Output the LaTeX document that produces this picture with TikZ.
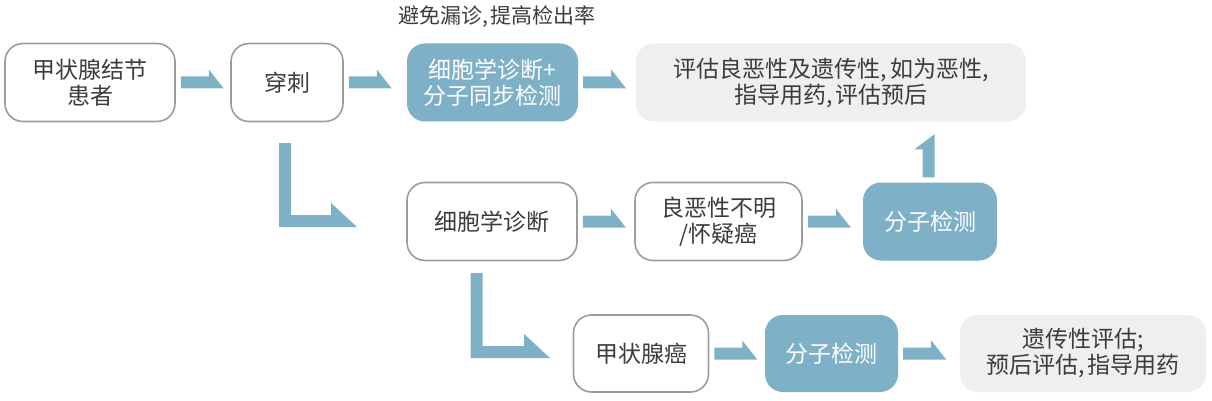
\documentclass[tikz,border=0pt]{standalone}
\usepackage{fontspec}
\setmainfont{Noto Sans CJK SC}
\usetikzlibrary{calc}
\definecolor{flowblue}{HTML}{7EB1C8}
\definecolor{boxline}{HTML}{9C9C9C}
\definecolor{boxgray}{HTML}{EFEFEF}
\definecolor{txt}{HTML}{3C3C3C}
\newcommand{\cm}{,\hspace{3pt}}
\tikzset{
  base/.style={rounded corners=18pt, inner sep=0pt, align=center, minimum height=78pt,
    font=\fontsize{23}{26}\selectfont, text=txt},
  whitebox/.style={base, draw=boxline, line width=1.6pt, fill=white},
  bluebox/.style={base, fill=flowblue, text=white},
  graybox/.style={base, fill=boxgray},
  arrowc/.style={fill=flowblue},
  toplabel/.style={font=\fontsize{21}{24}\selectfont, text=txt, inner sep=0pt}
}
\newcommand{\harr}[1]{\fill[arrowc] let \p1=(#1.east) in
  (\x1+5pt,\y1+6pt) -- (\x1+33pt,\y1+6pt) -- (\x1+33pt,\y1+13pt) -- (\x1+48pt,\y1-6pt) -- (\x1+5pt,\y1-6pt) -- cycle;}
\newcommand{\larr}[2]{\fill[arrowc] let \p1=(#1), \p2=(#2) in
  (\x1-6pt,\y1) -- (\x1+6pt,\y1) -- (\x1+6pt,\y2+6pt) -- (\x2-26pt,\y2+6pt) -- (\x2-26pt,\y2+18pt) -- (\x2,\y2-6pt) -- (\x1-6pt,\y2-6pt) -- cycle;}
\begin{document}
\begin{tikzpicture}[x=1pt,y=-1pt]
\useasboundingbox (0,0) rectangle (1212,401);
\fill[white] (0,0) rectangle (1212,401);
% row 1
\node[whitebox, minimum width=170pt] (n1) at (90,82.5) {甲状腺结节\\患者};
\node[whitebox, minimum width=112pt] (n2) at (287,82.5) {穿刺};
\node[bluebox, minimum width=171pt] (n3) at (492.5,82.5) {细胞学诊断+\\分子同步检测};
\node[graybox, minimum width=390pt] (n4) at (831,82.5) {评估良恶性及遗传性\cm 如为恶性,\\指导用药\cm 评估预后};
\node[toplabel] (lab) at (497,17) {避免漏诊\cm 提高检出率};
% row 2
\node[whitebox, minimum width=170pt] (n5) at (492,221.5) {细胞学诊断};
\node[whitebox, minimum width=167pt] (n6) at (718.5,221.5) {良恶性不明\\/怀疑癌};
\node[bluebox, minimum width=134pt] (n7) at (930,221.5) {分子检测};
% row 3
\node[whitebox, minimum width=135pt, minimum height=77pt] (n8) at (641,353.5) {甲状腺癌};
\node[bluebox, minimum width=133pt, minimum height=77pt] (n9) at (831.5,353.5) {分子检测};
\node[graybox, minimum width=246pt, minimum height=77pt] (n10) at (1083,353.5) {遗传性评估;\\预后评估\cm 指导用药};
% horizontal arrows
\harr{n1}
\harr{n2}
\harr{n3}
\harr{n5}
\harr{n6}
\harr{n8}
\harr{n9}
% L arrows
\coordinate (l1s) at (285,143);
\coordinate (l1e) at (357,221);
\larr{l1s}{l1e}
\coordinate (l2s) at (476.5,273);
\coordinate (l2e) at (550,352);
\larr{l2s}{l2e}
% up arrow from n7 to n4
\fill[arrowc] let \p1=(n7.north), \p2=(n4.south) in
  (\x1-7.5pt,\y1+5pt) -- (\x1-7.5pt,\y1+33pt) -- (\x1-15.5pt,\y1+33pt) -- (\x1+4.5pt,\y1+48pt) -- (\x1+4.5pt,\y1+5pt) -- cycle;
\end{tikzpicture}
\end{document}
